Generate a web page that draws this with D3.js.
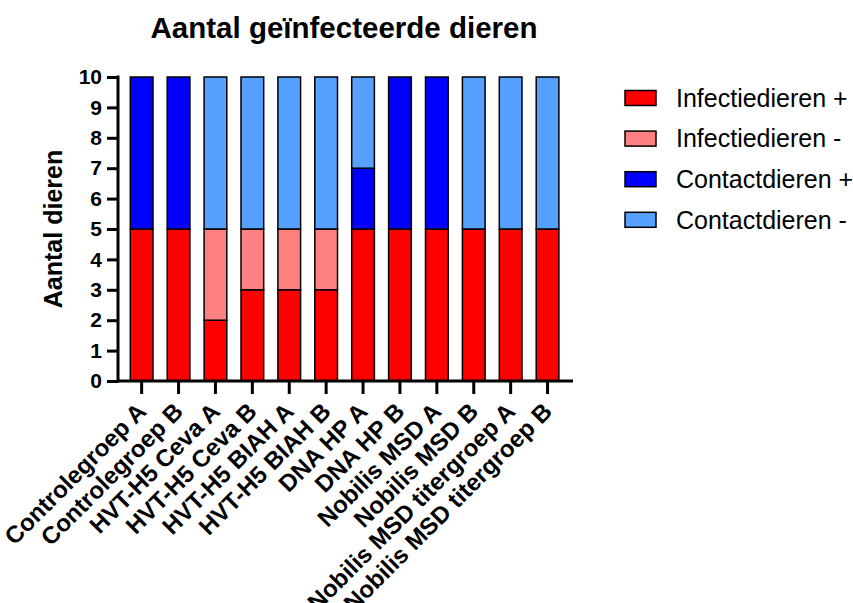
<!DOCTYPE html>
<html>
<head>
<meta charset="utf-8">
<script src="https://cdn.jsdelivr.net/npm/d3@7"></script>
<style>
	body { margin: 0; background: #fff; }
	text { font-family: "Liberation Sans", Arial, sans-serif; }
</style>
</head>
<body>
<svg></svg>
<script>
const CATEGORIES = [
	"Controlegroep A", "Controlegroep B",
	"HVT-H5 Ceva A", "HVT-H5 Ceva B",
	"HVT-H5 BIAH A", "HVT-H5 BIAH B",
	"DNA HP A", "DNA HP B",
	"Nobilis MSD A", "Nobilis MSD B",
	"Nobilis MSD titergroep A", "Nobilis MSD titergroep B"
];
const SERIES = ["Infectiedieren +", "Infectiedieren -", "Contactdieren +", "Contactdieren -"];
const INFECTIE_POS = [5, 5, 2, 3, 3, 3, 5, 5, 5, 5, 5, 5];
const INFECTIE_NEG = [0, 0, 3, 2, 2, 2, 0, 0, 0, 0, 0, 0];
const CONTACT_POS  = [5, 5, 0, 0, 0, 0, 2, 5, 5, 0, 0, 0];
const CONTACT_NEG  = [0, 0, 5, 5, 5, 5, 3, 0, 0, 5, 5, 5];
const Y_TICKS = [0, 1, 2, 3, 4, 5, 6, 7, 8, 9, 10];
const COLORS = ["#ff0000", "#ff8080", "#0000ff", "#56a0ff"];

const w = 853, h = 603;
const svg = d3.select('svg')
	.attr('width', w)
	.attr('height', h);

// table for d3.stack
const rows = CATEGORIES.map((c, i) => ({
	name: c,
	[SERIES[0]]: INFECTIE_POS[i],
	[SERIES[1]]: INFECTIE_NEG[i],
	[SERIES[2]]: CONTACT_POS[i],
	[SERIES[3]]: CONTACT_NEG[i]
}));
const stacked = d3.stack().keys(SERIES)(rows);

const xScale = d3.scaleBand()
	.domain(CATEGORIES)
	.range([123.2, 566])
	.paddingInner(0.385)
	.paddingOuter(0.1925);

const yScale = d3.scaleLinear()
	.domain([0, 10])
	.range([381, 77]);

const color = d3.scaleOrdinal().domain(SERIES).range(COLORS);

// title
svg.append('text')
	.attr('x', 344)
	.attr('y', 38)
	.attr('text-anchor', 'middle')
	.attr('font-size', 29.5)
	.attr('font-weight', 'bold')
	.text('Aantal geïnfecteerde dieren');

// bars
svg.append('g')
	.selectAll('g')
	.data(stacked)
	.join('g')
		.attr('fill', d => color(d.key))
	.selectAll('rect')
	.data(d => d.filter(s => s[1] - s[0] > 0))
	.join('rect')
		.attr('x', d => xScale(d.data.name))
		.attr('width', xScale.bandwidth())
		.attr('y', d => yScale(d[1]))
		.attr('height', d => yScale(d[0]) - yScale(d[1]))
		.attr('stroke', '#000')
		.attr('stroke-width', 1.5);

// y axis
const yAxis = svg.append('g')
	.attr('transform', 'translate(118,0)')
	.call(d3.axisLeft(yScale).tickValues(Y_TICKS).tickSize(11).tickPadding(5).tickFormat(d3.format('d')));
yAxis.select('.domain').remove();
yAxis.append('line')
	.attr('x1', 0).attr('x2', 0)
	.attr('y1', yScale(10) - 1.5).attr('y2', yScale(0) + 1.5)
	.attr('stroke', '#000').attr('stroke-width', 3);
yAxis.selectAll('.tick line').attr('stroke-width', 3);
yAxis.selectAll('.tick text')
	.attr('font-size', 21)
	.attr('font-weight', 'bold')
	.attr('fill', '#000');

// x axis
const xAxis = svg.append('g')
	.attr('transform', `translate(0,${yScale(0)})`)
	.call(d3.axisBottom(xScale).tickSize(13).tickFormat(''));
xAxis.select('.domain').remove();
xAxis.append('line')
	.attr('x1', 117).attr('x2', 573)
	.attr('y1', 0).attr('y2', 0)
	.attr('stroke', '#000').attr('stroke-width', 3);
xAxis.selectAll('.tick line').attr('stroke-width', 3);

svg.append('g')
	.selectAll('text')
	.data(CATEGORIES)
	.join('text')
		.attr('transform', d => `translate(${xScale(d) + xScale.bandwidth() / 2 + 6},${413}) rotate(-45)`)
		.attr('text-anchor', 'end')
		.attr('font-size', 24)
		.attr('font-weight', 'bold')
		.text(d => d);

// y label
svg.append('text')
	.attr('transform', 'translate(62,229) rotate(-90)')
	.attr('text-anchor', 'middle')
	.attr('font-size', 25)
	.attr('font-weight', 'bold')
	.text('Aantal dieren');

// legend
const legend = svg.append('g')
	.selectAll('g')
	.data(SERIES)
	.join('g')
		.attr('transform', (d, i) => `translate(625,${98 + i * 40.6})`);
legend.append('rect')
	.attr('x', 0).attr('y', -7.5)
	.attr('width', 31).attr('height', 15)
	.attr('fill', d => color(d))
	.attr('stroke', '#000')
	.attr('stroke-width', 1.5);
legend.append('text')
	.attr('x', 51)
	.attr('dy', '0.35em')
	.attr('font-size', 25)
	.text(d => d);
</script>
</body>
</html>
